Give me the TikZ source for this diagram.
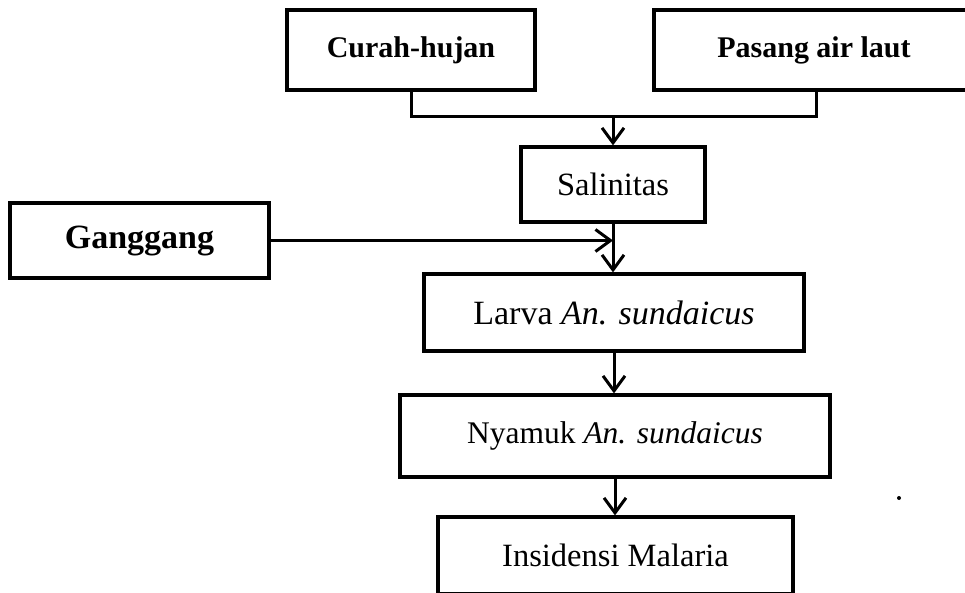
\documentclass[tikz,border=0pt]{standalone}
\usepackage{fontspec}
\setmainfont{Liberation Serif}
\usetikzlibrary{arrows.meta}

\begin{document}
\begin{tikzpicture}[x=1pt,y=-1pt,
    box/.style={draw,line width=3.2pt,inner sep=0pt,font=\fontsize{32.5}{36}\selectfont},
    boldbox/.style={box,line width=3.6pt,font=\fontsize{30}{34}\selectfont\bfseries},
    conn/.style={line width=3pt,black},
    arr/.style={conn,-{Straight Barb[length=15pt,width=22pt,line width=3pt]}}]
    \useasboundingbox (0,0) rectangle (965,593);
    \node[boldbox,minimum width=248pt,minimum height=80pt] (curah) at (411,50) {Curah-hujan};
    \node[boldbox,minimum width=324pt,minimum height=80pt] (pasang) at (816,50) {\hspace*{-4pt}Pasang air laut};
    \node[box,minimum width=184pt,minimum height=75pt] (salinitas) at (613,184.5) {Salinitas};
    \node[boldbox,minimum width=259pt,minimum height=75pt,font=\fontsize{34}{38}\selectfont\bfseries] (ganggang) at (139.5,240.5) {Ganggang};
    \node[box,minimum width=380pt,minimum height=77pt,font=\fontsize{34}{38}\selectfont] (larva) at (614,312.5) {Larva \textit{An. sundaicus}};
    \node[box,minimum width=430pt,minimum height=82pt,font=\fontsize{31.5}{35}\selectfont] (nyamuk) at (615,436) {Nyamuk \textit{An. sundaicus}};
    \node[box,minimum width=355pt,minimum height=77pt] (insidensi) at (615.5,555.5) {Insidensi Malaria};
    \coordinate (merge) at (613,117);
    % curah hujan + pasang -> salinitas
    \draw[conn] (curah.south) |- (merge) -| (pasang.south);
    \draw[arr] (merge) -- (salinitas.north);
    \draw[arr] (salinitas.south) -- (salinitas.south |- larva.north);
    \draw[arr] (ganggang.east) -- (ganggang.east -| salinitas.south);
    \draw[arr] (larva.south) -- (larva.south |- nyamuk.north);
    \draw[arr] (nyamuk.south) -- (nyamuk.south |- insidensi.north);
    \fill (899,498) circle (2pt);
\end{tikzpicture}
\end{document}
